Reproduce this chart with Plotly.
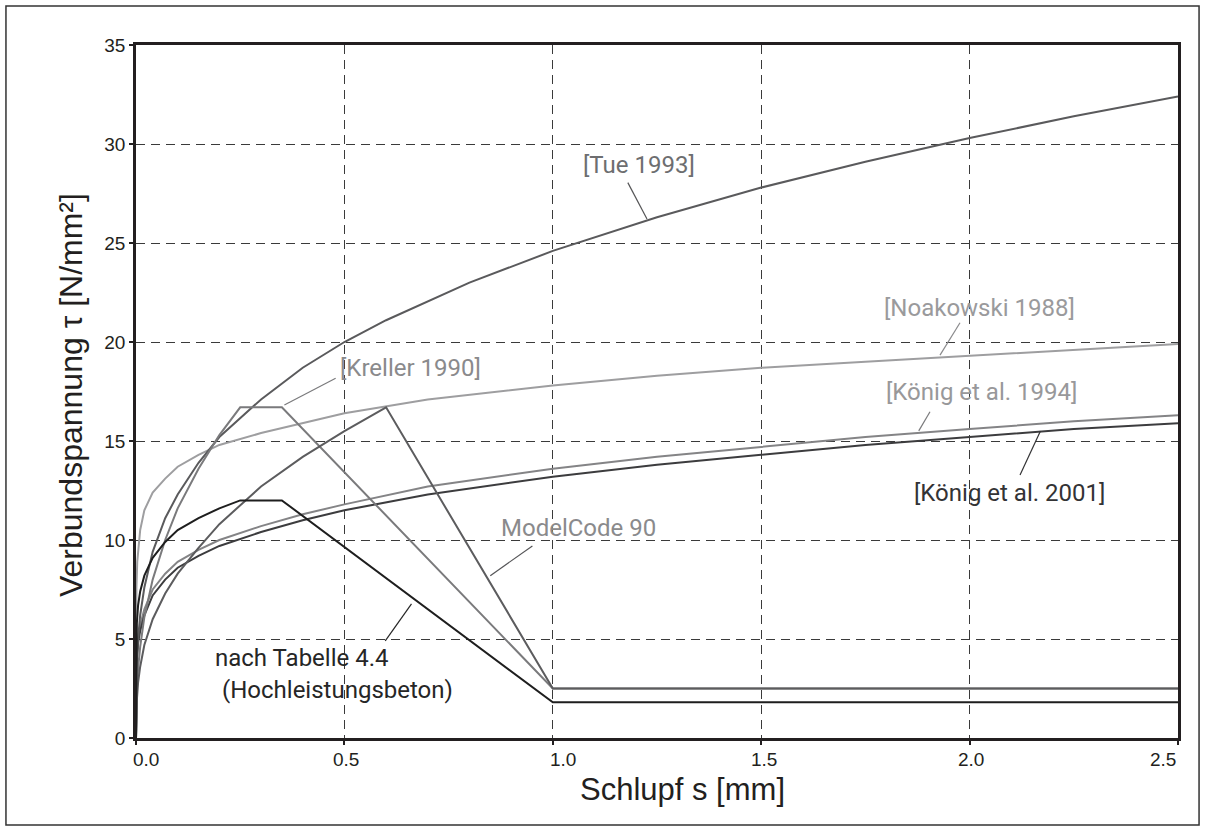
import plotly.graph_objects as go

# ---------------- data ----------------
s_tue = [0, 0.002, 0.005, 0.01, 0.02, 0.04, 0.07, 0.1, 0.15, 0.2, 0.3, 0.4, 0.5, 0.6, 0.8, 1.0, 1.25, 1.5, 1.75, 2.0, 2.25, 2.5]
t_tue = [0, 3.8, 5.0, 6.2, 7.6, 9.4, 11.1, 12.3, 13.9, 15.2, 17.1, 18.7, 20.0, 21.1, 23.0, 24.6, 26.3, 27.8, 29.1, 30.3, 31.4, 32.4]

s_noa = [0, 0.001, 0.003, 0.006, 0.01, 0.02, 0.04, 0.07, 0.1, 0.15, 0.2, 0.3, 0.4, 0.5, 0.7, 1.0, 1.25, 1.5, 1.75, 2.0, 2.25, 2.5]
t_noa = [0, 7.6, 8.9, 9.8, 10.5, 11.5, 12.4, 13.1, 13.7, 14.3, 14.8, 15.4, 15.9, 16.4, 17.1, 17.8, 18.3, 18.7, 19.0, 19.3, 19.6, 19.9]

s_k94 = [0, 0.002, 0.005, 0.01, 0.02, 0.04, 0.07, 0.1, 0.15, 0.2, 0.3, 0.4, 0.5, 0.7, 1.0, 1.25, 1.5, 1.75, 2.0, 2.25, 2.5]
t_k94 = [0, 4.2, 5.0, 5.7, 6.5, 7.5, 8.3, 8.9, 9.5, 10.0, 10.7, 11.3, 11.8, 12.7, 13.6, 14.2, 14.7, 15.2, 15.6, 16.0, 16.3]

s_k01 = [0, 0.002, 0.005, 0.01, 0.02, 0.04, 0.07, 0.1, 0.15, 0.2, 0.3, 0.4, 0.5, 0.7, 1.0, 1.25, 1.5, 1.75, 2.0, 2.25, 2.5]
t_k01 = [0, 4.0, 4.8, 5.4, 6.2, 7.2, 8.0, 8.6, 9.2, 9.7, 10.4, 11.0, 11.5, 12.3, 13.2, 13.8, 14.3, 14.8, 15.2, 15.6, 15.9]

s_kre = [0, 0.002, 0.005, 0.01, 0.02, 0.04, 0.07, 0.1, 0.15, 0.2, 0.25, 0.35, 1.0, 2.5]
t_kre = [0, 2.4, 3.5, 4.6, 6.1, 8.0, 10.0, 11.6, 13.6, 15.3, 16.7, 16.7, 2.5, 2.5]

s_mc = [0, 0.002, 0.005, 0.01, 0.02, 0.04, 0.07, 0.1, 0.15, 0.2, 0.3, 0.4, 0.5, 0.6, 1.0, 2.5]
t_mc = [0, 1.9, 2.8, 3.6, 4.7, 6.0, 7.3, 8.3, 9.6, 10.8, 12.7, 14.2, 15.5, 16.7, 2.5, 2.5]

s_tab = [0, 0.001, 0.002, 0.005, 0.01, 0.02, 0.04, 0.07, 0.1, 0.15, 0.2, 0.25, 0.35, 1.0, 2.5]
t_tab = [0, 5.2, 5.8, 6.7, 7.4, 8.2, 9.1, 9.9, 10.5, 11.1, 11.6, 12.0, 12.0, 1.8, 1.8]

x_tickvals = [0.0, 0.5, 1.0, 1.5, 2.0, 2.5]
x_ticktext = ["0.0", "0.5", "1.0", "1.5", "2.0", "2.5"]
y_tickvals = [0, 5, 10, 15, 20, 25, 30, 35]

# ---------------- figure ----------------
fig = go.Figure()

series = [
    (s_noa, t_noa, "#9e9ea0"),
    (s_k94, t_k94, "#848486"),
    (s_k01, t_k01, "#3c3c3e"),
    (s_tue, t_tue, "#5a5a5c"),
    (s_kre, t_kre, "#7a7a7c"),
    (s_mc, t_mc, "#5c5c5e"),
    (s_tab, t_tab, "#1e1e1e"),
]
for xs, ys, col in series:
    fig.add_trace(go.Scatter(x=xs, y=ys, mode="lines",
                             line=dict(color=col, width=2), hoverinfo="skip"))

AX = "#231f20"
fig.update_xaxes(range=[0, 2.5], tickvals=x_tickvals, showticklabels=False,
                 showline=True, linecolor=AX, linewidth=2.5, mirror=True,
                 ticks="outside", ticklen=4, tickwidth=1.5, tickcolor=AX,
                 showgrid=True, gridcolor="#3a3a3a", gridwidth=1, griddash="9px,6px",
                 zeroline=False)
fig.update_yaxes(range=[0, 35], tickvals=y_tickvals,
                 showline=True, linecolor=AX, linewidth=2.5, mirror=True,
                 ticks="outside", ticklen=4, tickwidth=1.5, tickcolor=AX,
                 tickfont=dict(family="Liberation Sans, Arial", size=19, color=AX),
                 showgrid=True, gridcolor="#3a3a3a", gridwidth=1, griddash="9px,6px",
                 zeroline=False)

# x tick labels as annotations (edge labels pulled inward as in the original)
shifts = [10, 2, 10, 3, 1, -15]
for v, t, sh in zip(x_tickvals, x_ticktext, shifts):
    fig.add_annotation(x=v, y=0, xref="x", yref="y", text=t, showarrow=False,
                       xanchor="center", yanchor="top", xshift=sh, yshift=-9,
                       font=dict(family="Liberation Sans, Arial", size=19, color=AX))

LBL = "Roboto, Liberation Sans, Arial"
labels = [
    ("[Tue 1993]", 1.069, 28.94, "#6d6e70"),
    ("[Noakowski 1988]", 1.792, 21.72, "#9a9a9c"),
    ("[Kreller 1990]", 0.488, 18.69, "#8a8a8c"),
    ("[König et al. 1994]", 1.797, 17.47, "#98989a"),
    ("[König et al. 2001]", 1.864, 12.37, "#333335"),
    ("ModelCode 90", 0.873, 10.61, "#8a8a8c"),
    ("nach Tabelle 4.4", 0.188, 4.04, "#262626"),
    ("(Hochleistungsbeton)", 0.205, 2.42, "#262626"),
]
for t, x, y, c in labels:
    fig.add_annotation(x=x, y=y, xref="x", yref="y", text=t, showarrow=False,
                       xanchor="left", yanchor="middle", borderpad=0,
                       font=dict(family=LBL, size=24, color=c))

leaders = [
    (1.180, 28.05, 1.226, 26.21, "#555557"),
    (0.479, 18.17, 0.356, 16.82, "#7a7a7c"),
    (1.977, 20.97, 1.929, 19.34, "#8a8a8c"),
    (1.905, 16.48, 1.878, 15.51, "#7a7a7c"),
    (2.121, 13.28, 2.170, 15.51, "#333335"),
    (0.951, 9.70, 0.850, 8.20, "#555557"),
    (0.598, 4.91, 0.661, 6.77, "#262626"),
]
for x0, y0, x1, y1, c in leaders:
    fig.add_shape(type="line", x0=x0, y0=y0, x1=x1, y1=y1, xref="x", yref="y",
                  line=dict(color=c, width=1.2))

# axis titles
fig.add_annotation(x=0.524, y=-0.075, xref="paper", yref="paper",
                   text="Schlupf s [mm]", showarrow=False,
                   xanchor="center", yanchor="middle",
                   font=dict(family="Liberation Sans, Arial", size=31, color=AX))
fig.add_annotation(x=-0.0623, y=0.495, xref="paper", yref="paper",
                   text="Verbundspannung τ [N/mm²]", showarrow=False, textangle=-90,
                   xanchor="center", yanchor="middle",
                   font=dict(family="Liberation Sans, Arial", size=32, color=AX))

# outer frame
fig.add_shape(type="rect", xref="paper", yref="paper",
              x0=-0.1248, x1=1.0202, y0=-0.1255, y1=1.0563,
              line=dict(color="#333333", width=1.5), fillcolor="rgba(0,0,0,0)",
              layer="below")

fig.update_layout(width=1205, height=831,
                  margin=dict(l=136, r=27, t=45, b=93),
                  paper_bgcolor="white", plot_bgcolor="white",
                  showlegend=False)

fig.write_html("out.html")
